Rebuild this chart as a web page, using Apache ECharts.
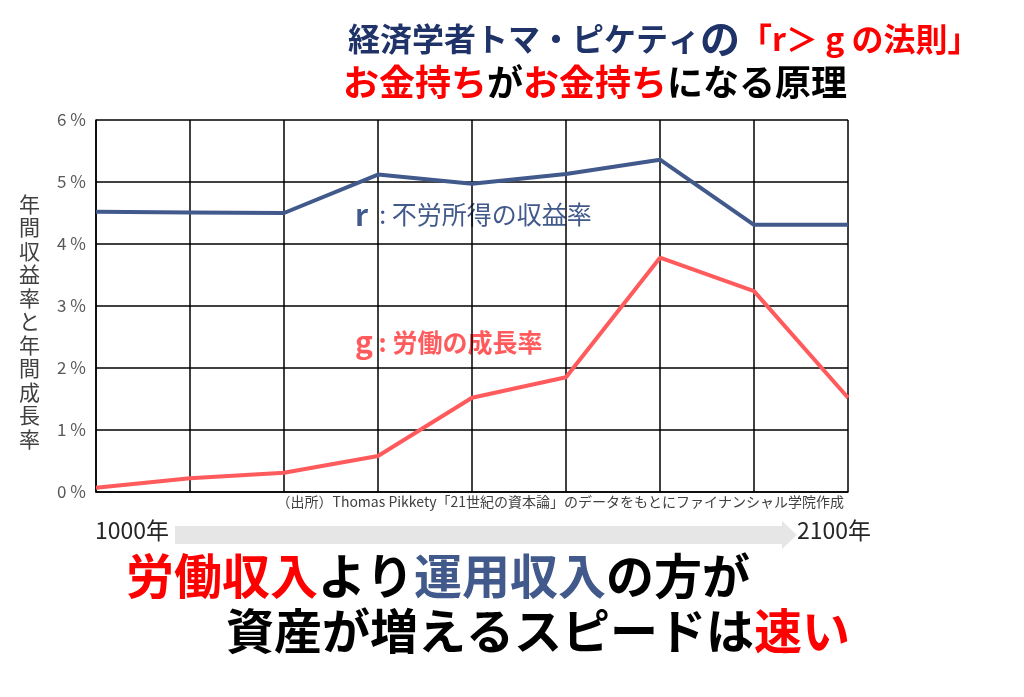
<!DOCTYPE html>
<html>
<head>
<meta charset="utf-8">
<script src="https://cdn.jsdelivr.net/npm/echarts@6/dist/echarts.min.js"></script>
<style>
  html, body { margin: 0; padding: 0; background: #fff; }
  #main { width: 1024px; height: 697px; }
</style>
</head>
<body>
<div id="main"></div>
<script>
// 期間（ピケティの区分）
const periods = ['0-1000', '1000-1500', '1500-1700', '1700-1820', '1820-1913', '1913-1950', '1950-2012', '2012-2050', '2050-2100'];
// r : 不労所得の収益率 (%)
const rValues = [4.52, 4.51, 4.50, 5.12, 4.97, 5.13, 5.36, 4.31, 4.31];
// g : 労働の成長率 (%)
const gValues = [0.07, 0.22, 0.31, 0.58, 1.52, 1.85, 3.78, 3.24, 1.52];

const JP = '"Noto Sans CJK JP", sans-serif';
const NAVY = '#1f3368';
const BLUE = '#41598b';
const RED = '#ff0000';
const PINK = '#ff5a5c';

const chart = echarts.init(document.getElementById('main'));

chart.setOption({
  backgroundColor: '#fff',
  animation: false,
  grid: { left: 96, right: 176, top: 120, bottom: 205 },
  xAxis: {
    type: 'category',
    data: periods,
    boundaryGap: false,
    axisLine: { lineStyle: { color: '#000', width: 1.5 } },
    axisTick: { show: false },
    axisLabel: { show: false },
    splitLine: { show: true, lineStyle: { color: '#000', width: 1.5 } }
  },
  yAxis: {
    type: 'value',
    min: 0,
    max: 6,
    interval: 1,
    axisLine: { show: true, lineStyle: { color: '#000', width: 1.5 } },
    axisTick: { show: false },
    axisLabel: { formatter: '{value} %', color: '#595959', fontSize: 17, fontFamily: JP, margin: 10 },
    splitLine: { lineStyle: { color: '#000', width: 1.5 } }
  },
  series: [
    {
      name: 'r',
      type: 'line',
      data: rValues,
      symbol: 'none',
      lineStyle: { color: BLUE, width: 4 }
    },
    {
      name: 'g',
      type: 'line',
      data: gValues,
      symbol: 'none',
      lineStyle: { color: PINK, width: 4 }
    }
  ],
  graphic: [
    // タイトル
    {
      type: 'text', left: 348, top: 19,
      style: {
        text: '{a|経済学者トマ・ピケティ}{n|の}{b|「r＞ g の法則」}',
        rich: {
          a: { fontFamily: JP, fontWeight: 'bold', fontSize: 32, fill: NAVY },
          n: { fontFamily: JP, fontWeight: 'bold', fontSize: 40, fill: NAVY },
          b: { fontFamily: JP, fontWeight: 'bold', fontSize: 32, fill: RED }
        }
      }
    },
    {
      type: 'text', left: 343, top: 64,
      style: {
        text: '{r|お金持ち}{k|が}{r|お金持ち}{k|になる原理}',
        rich: {
          r: { fontFamily: JP, fontWeight: 'bold', fontSize: 36, fill: RED },
          k: { fontFamily: JP, fontWeight: 'bold', fontSize: 36, fill: '#000' }
        }
      }
    },
    // 縦軸名
    {
      type: 'text', left: 19, top: 192,
      style: {
        text: '年\n間\n収\n益\n率\nと\n年\n間\n成\n長\n率',
        fontFamily: JP, fontSize: 21, lineHeight: 23.5, fill: '#404040'
      }
    },
    // 系列ラベル
    {
      type: 'text', left: 355, top: 200,
      style: {
        text: '{b|r}{t|  : 不労所得の収益率}',
        rich: {
          b: { fontFamily: JP, fontWeight: 'bold', fontSize: 30, fill: BLUE },
          t: { fontFamily: JP, fontSize: 25, fill: BLUE }
        }
      }
    },
    {
      type: 'text', left: 355, top: 327,
      style: {
        text: '{b|g}{t| : 労働の成長率}',
        rich: {
          b: { fontFamily: JP, fontWeight: 'bold', fontSize: 30, fill: PINK },
          t: { fontFamily: JP, fontWeight: 'bold', fontSize: 25, fill: PINK }
        }
      }
    },
    // 出所
    {
      type: 'text', right: 180, top: 495,
      style: {
        text: '（出所）Thomas Pikkety「21世紀の資本論」のデータをもとにファイナンシャル学院作成',
        fontFamily: JP, fontSize: 14, fill: '#404040'
      }
    },
    // 時間軸の矢印
    {
      type: 'polygon',
      shape: { points: [[175, 526], [782, 526], [782, 521], [797, 535], [782, 549], [782, 544], [175, 544]] },
      style: { fill: '#e6e6e6' }
    },
    {
      type: 'text', left: 95, top: 519,
      style: { text: '1000年', fontFamily: JP, fontSize: 23, fill: '#262626' }
    },
    {
      type: 'text', left: 797, top: 519,
      style: { text: '2100年', fontFamily: JP, fontSize: 23, fill: '#262626' }
    },
    // まとめ
    {
      type: 'text', left: 126, top: 552,
      style: {
        text: '{r|労働収入}{k|より}{b|運用収入}{k|の方が}',
        rich: {
          r: { fontFamily: JP, fontWeight: 'bold', fontSize: 48, fill: RED },
          b: { fontFamily: JP, fontWeight: 'bold', fontSize: 48, fill: BLUE },
          k: { fontFamily: JP, fontWeight: 'bold', fontSize: 48, fill: '#000' }
        }
      }
    },
    {
      type: 'text', left: 226, top: 607,
      style: {
        text: '{k|資産が増えるスピードは}{r|速い}',
        rich: {
          r: { fontFamily: JP, fontWeight: 'bold', fontSize: 48, fill: RED },
          k: { fontFamily: JP, fontWeight: 'bold', fontSize: 48, fill: '#000' }
        }
      }
    }
  ]
});
</script>
</body>
</html>
